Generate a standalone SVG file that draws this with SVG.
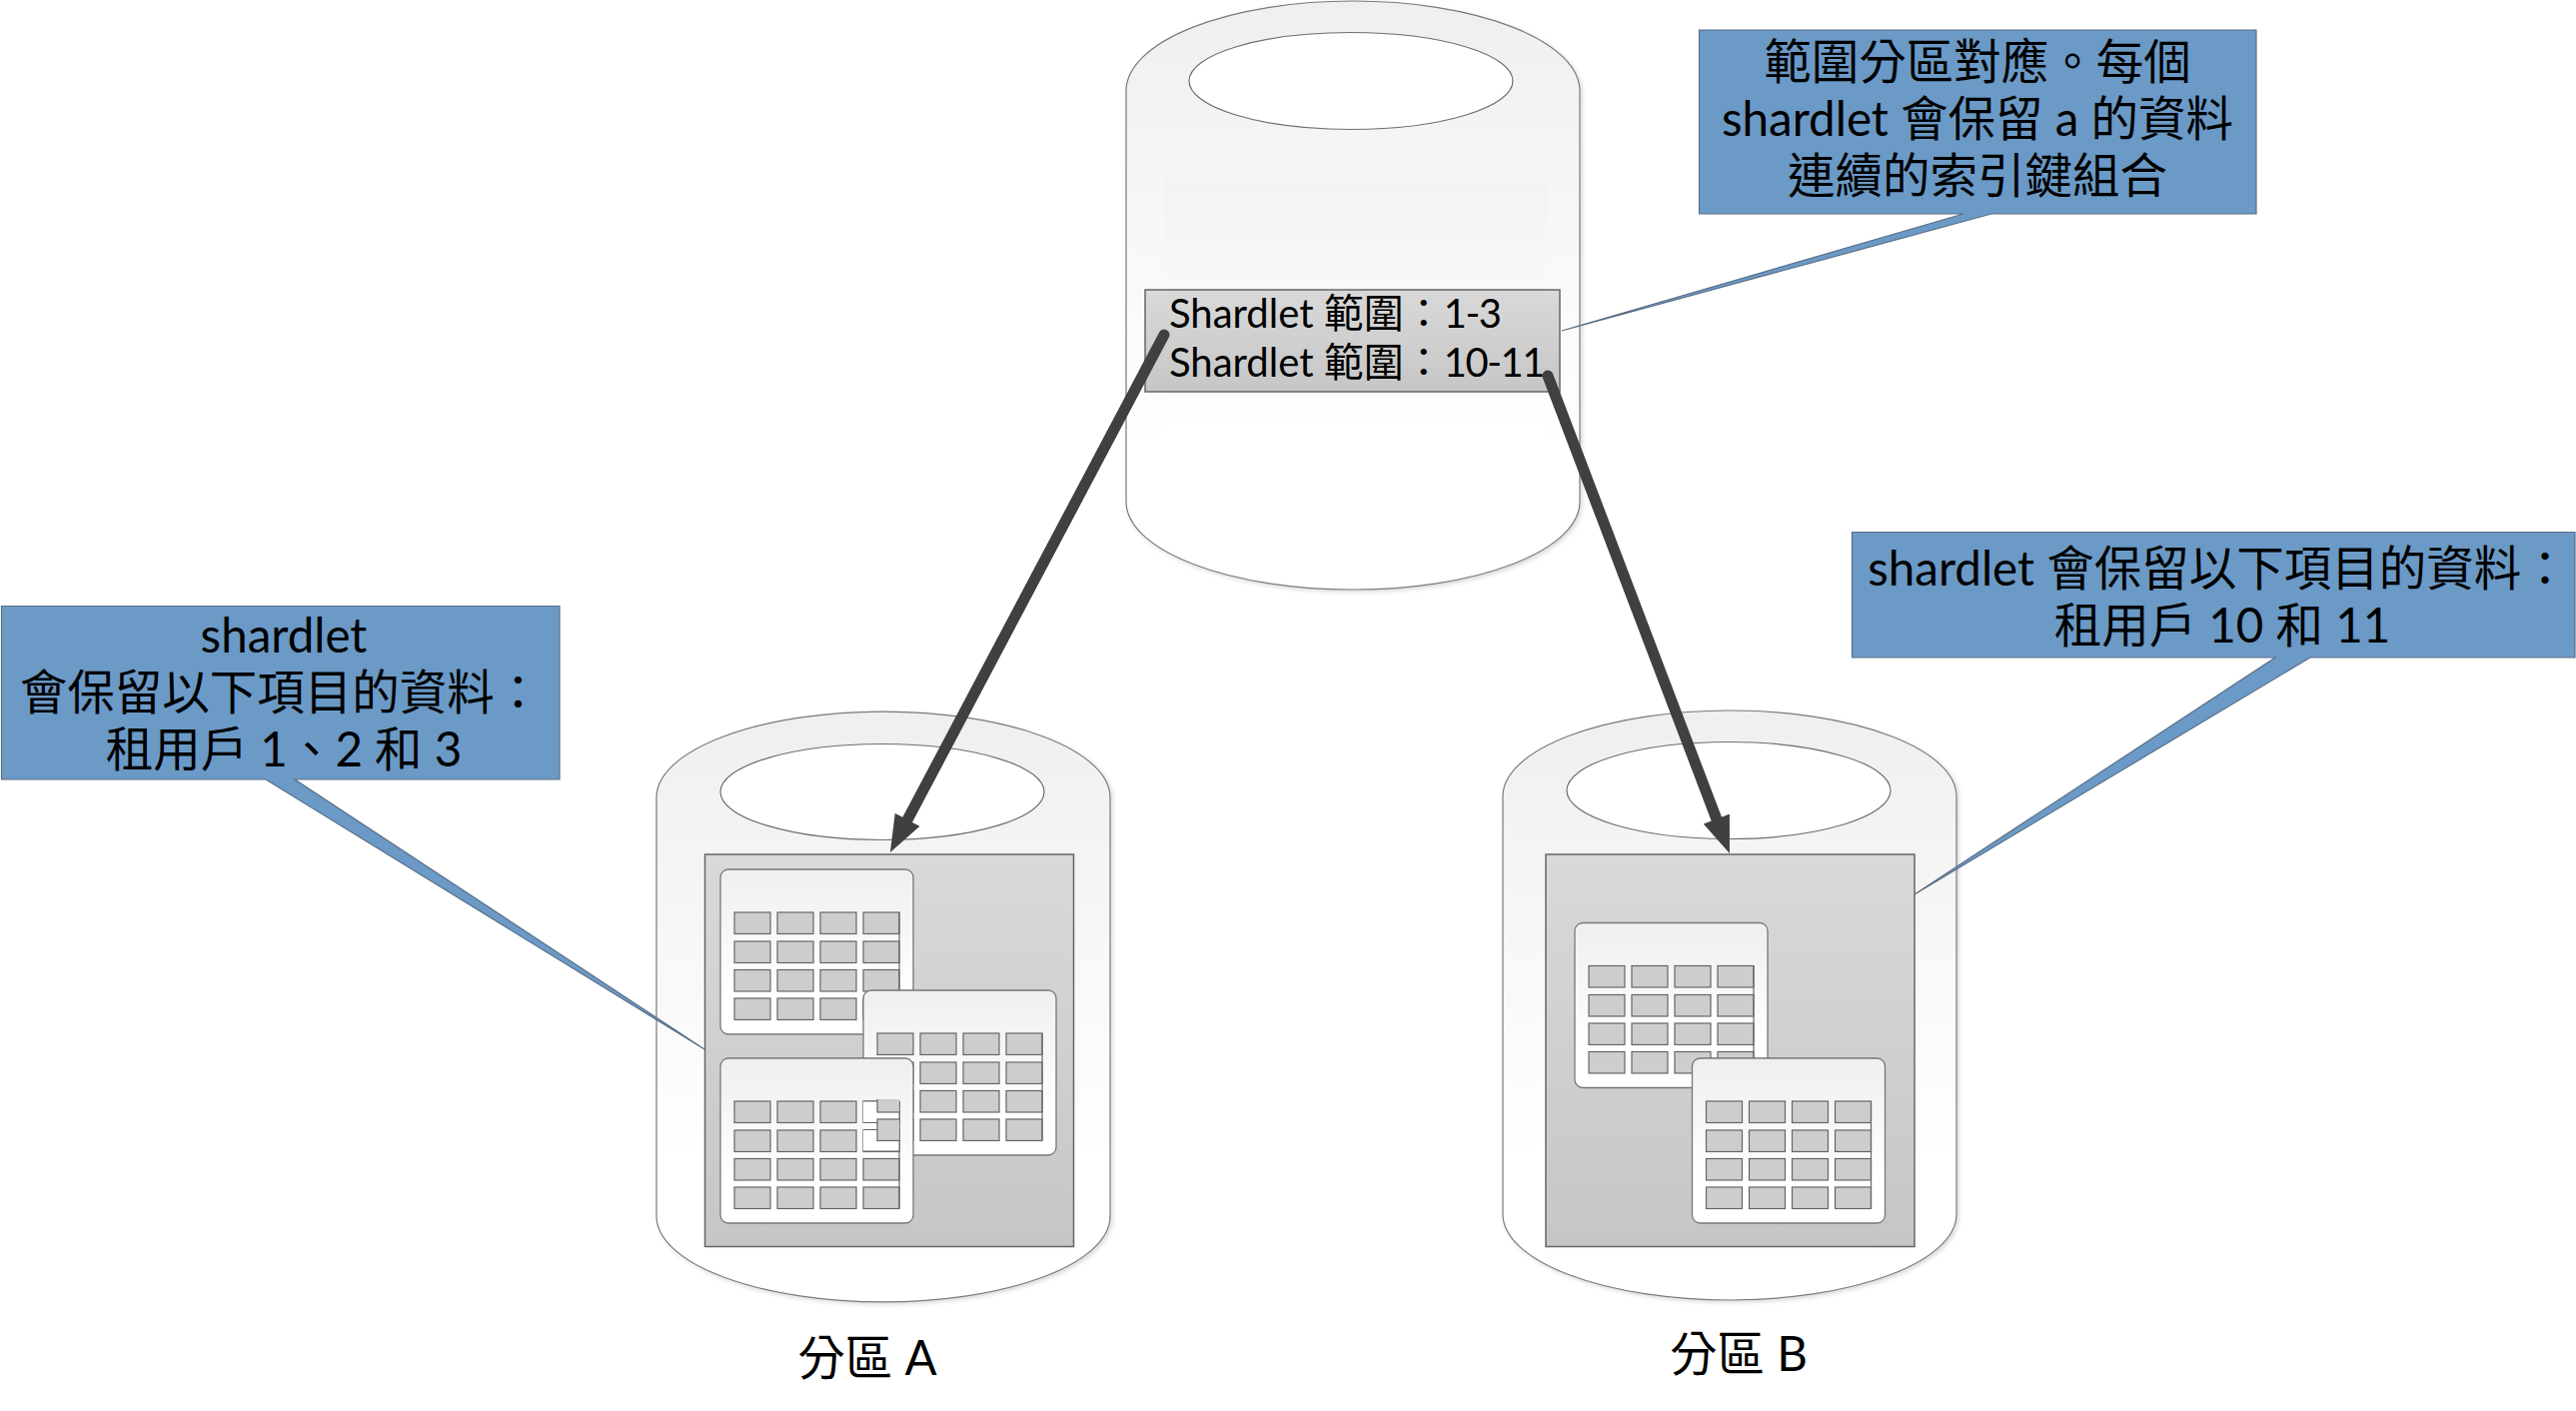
<svg xmlns="http://www.w3.org/2000/svg" xmlns:xlink="http://www.w3.org/1999/xlink" width="2578" height="1412" viewBox="0 0 2578 1412">
<style>
text{font-family:Lato,"Noto Sans CJK TC",sans-serif;fill:#000}
.c{font-size:47.500px;text-anchor:middle}
.r{font-size:40px}
.n{letter-spacing:-1.5px}
.cyl{fill:url(#cylG);stroke:#7a7a7a;stroke-width:1.2;filter:url(#sh)}
.hole{fill:#fff;stroke:#6e6e6e;stroke-width:1.2}
.panel{fill:url(#panG);stroke:#666;stroke-width:1.5}
.callout{fill:#6b9ac7;stroke:#5a6f86;stroke-width:1.2}
.cell{fill:#cdcdcd;stroke:#666;stroke-width:1.2}
.tb{fill:url(#cylG);stroke:#777;stroke-width:1.3}
.arrow{fill:none;stroke:#404040;stroke-width:11;stroke-linecap:round}
</style>
<defs>
<linearGradient id="cylG" x1="0" y1="0" x2="0" y2="1"><stop offset="0" stop-color="#efefef"/><stop offset=".75" stop-color="#fff"/><stop offset="1" stop-color="#fff"/></linearGradient>
<linearGradient id="inG" x1="0" y1="0" x2="0" y2="1"><stop offset="0" stop-color="#f3f3f3"/><stop offset=".75" stop-color="#fff"/><stop offset="1" stop-color="#fff"/></linearGradient>
<linearGradient id="panG" x1="0" y1="0" x2="0" y2="1"><stop offset="0" stop-color="#d9d9d9"/><stop offset="1" stop-color="#c6c6c6"/></linearGradient>
<filter id="sh" x="-5%" y="-5%" width="110%" height="110%"><feDropShadow dx="2" dy="2" stdDeviation="2" flood-color="#000" flood-opacity=".15"/></filter>
<marker id="head" markerUnits="userSpaceOnUse" markerWidth="44" markerHeight="32" refX="7" refY="16" orient="auto"><path d="M0,2 L37,16 L0,30 Z" fill="#404040"/></marker>
<g id="cells">
<rect class="cell" x="14" y="43" width="36" height="21.5"/><rect class="cell" x="57" y="43" width="36" height="21.5"/><rect class="cell" x="100" y="43" width="36" height="21.5"/><rect class="cell" x="143" y="43" width="36" height="21.5"/>
<rect class="cell" x="14" y="72" width="36" height="21.5"/><rect class="cell" x="57" y="72" width="36" height="21.5"/><rect class="cell" x="100" y="72" width="36" height="21.5"/><rect class="cell" x="143" y="72" width="36" height="21.5"/>
<rect class="cell" x="14" y="100.500" width="36" height="21.5"/><rect class="cell" x="57" y="100.500" width="36" height="21.5"/><rect class="cell" x="100" y="100.500" width="36" height="21.5"/><rect class="cell" x="143" y="100.500" width="36" height="21.5"/>
<rect class="cell" x="14" y="129" width="36" height="21.5"/><rect class="cell" x="57" y="129" width="36" height="21.5"/><rect class="cell" x="100" y="129" width="36" height="21.5"/><rect class="cell" x="143" y="129" width="36" height="21.5"/>
<path d="M179,43V150.500" stroke="#666" stroke-width="1.2" fill="none"/>
</g>
<g id="table"><rect class="tb" x="0" y="0" width="193" height="165" rx="8"/><use href="#cells"/></g>
<clipPath id="gl"><rect x="864" y="1100" width="36" height="53"/></clipPath>
</defs>
<g id="shard-map">
<path class="cyl" d="M1127,91A227,90 0 0 1 1581,91V502A227,88 0 0 1 1127,502Z"/>
<ellipse class="hole" cx="1352" cy="81" rx="162" ry="48.500"/>
<rect x="1165" y="178" width="383" height="330" fill="url(#inG)"/>
<rect class="panel" x="1146" y="290" width="415" height="102"/>
<text class="r" x="1170" y="328">Shardlet 範圍：<tspan class="n">1-3</tspan></text>
<text class="r" x="1170" y="377">Shardlet 範圍：<tspan class="n">10-11</tspan></text>
</g>
<g id="partition-a">
<path class="cyl" d="M657,798A227,86 0 0 1 1111,798V1217A227,86 0 0 1 657,1217Z"/>
<ellipse class="hole" cx="883" cy="792.500" rx="162" ry="48"/>
<rect class="panel" x="705.500" y="855" width="369" height="392.500"/>
<use href="#table" x="721" y="870"/>
<use href="#table" x="864" y="991"/>
<use href="#table" x="721" y="1059"/>
<rect x="864" y="1102" width="36" height="50" fill="#fff"/>
<path d="M864,1102H900M864,1123.500H900M864,1130.500H900M864,1152H900M900,1102V1152" stroke="#666" stroke-width="1" fill="none"/>
<g clip-path="url(#gl)"><rect class="cell" x="878" y="1091.500" width="36" height="21.500"/><rect class="cell" x="878" y="1120" width="36" height="21.500"/></g>
<text class="c" x="868" y="1376">分區 A</text>
</g>
<g id="partition-b">
<path class="cyl" d="M1504,797A227,86 0 0 1 1958,797V1215A227,86 0 0 1 1504,1215Z"/>
<ellipse class="hole" cx="1730" cy="791" rx="162" ry="48.500"/>
<rect class="panel" x="1547" y="855" width="369" height="392.500"/>
<use href="#table" x="1576" y="923.500"/>
<use href="#table" x="1693.500" y="1059"/>
<text class="c" x="1740" y="1372">分區 B</text>
</g>
<g id="callout-range">
<path class="callout" d="M1700.500,30H2258V214H1993L1563,331L1965,214H1700.500Z"/>
<text class="c" x="1979" y="79">範圍分區對應。每個</text>
<text class="c" x="1979" y="136">shardlet 會保留 a 的資料</text>
<text class="c" x="1979" y="193">連續的索引鍵組合</text>
</g>
<g id="callout-a">
<path class="callout" d="M1.500,606.500H560V780H295L705,1050L266,780H1.500Z"/>
<text class="c" x="284" y="653">shardlet</text>
<text class="c" x="281" y="710">會保留以下項目的資料：</text>
<text class="c" x="284" y="767">租用戶 1、2 和 3</text>
</g>
<g id="callout-b">
<path class="callout" d="M1853.500,532.500H2577V658H2312L1916,895L2277,658H1853.500Z"/>
<text class="c" x="2220" y="586">shardlet 會保留以下項目的資料：</text>
<text class="c" x="2224" y="643">租用戶 10 和 11</text>
</g>
<g id="connectors">
<path class="arrow" d="M1165,335L904.900,826.500" marker-end="url(#head)"/>
<path class="arrow" d="M1549,376L1720.300,826" marker-end="url(#head)"/>
</g>
</svg>
